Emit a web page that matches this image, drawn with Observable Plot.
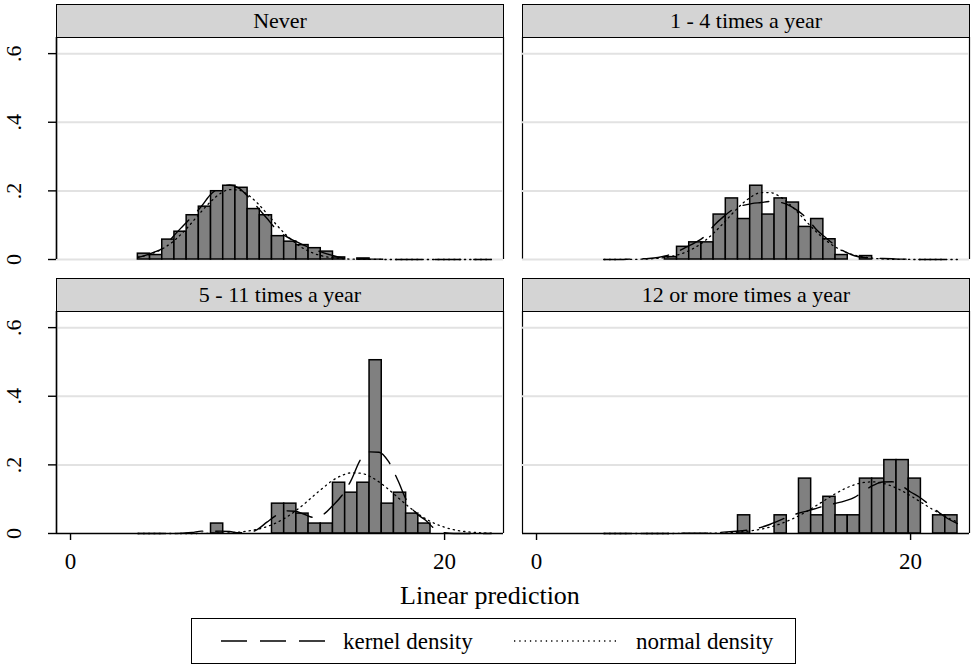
<!DOCTYPE html>
<html>
<head>
<meta charset="utf-8">
<script src="https://cdn.jsdelivr.net/npm/d3@7"></script>
<script src="https://cdn.jsdelivr.net/npm/@observablehq/plot@0.6"></script>
<style>
  body { margin: 0; background: #fff; }
  #chart { position: relative; width: 971px; height: 667px; background: #fff;
           font-family: "Liberation Serif", "Times New Roman", serif; color: #000; overflow: hidden; }
  .strip { position: absolute; box-sizing: border-box; height: 34px; border: 1px solid #000;
           background: #d4d4d4; font-size: 22px; text-align: center; line-height: 32px;
           font-family: "Liberation Serif", serif; }
  .panel { position: absolute; }
  .xtitle { position: absolute; left: 190px; width: 600px; text-align: center; font-size: 26px;
            line-height: 26px; font-family: "Liberation Serif", serif; }
  .legend { position: absolute; }
  .legend svg { display: block; }
</style>
</head>
<body>
<div id="chart"></div>
<script>
// ---------------- data ----------------
const panelTitles = ["Never", "1 - 4 times a year", "5 - 11 times a year", "12 or more times a year"];

// histogram bins (common to all panels)
const binStart = 3.6;
const binWidth = 0.652;

// density per bin (29 bins)
const densNever = [0.017, 0.013, 0.058, 0.081, 0.129, 0.154, 0.199, 0.215, 0.209, 0.147,
                   0.129, 0.068, 0.052, 0.042, 0.033, 0.023, 0.006, 0, 0.003, 0,
                   0, 0, 0, 0, 0, 0, 0, 0, 0];
const dens1to4 = [0, 0, 0, 0, 0, 0.007, 0.037, 0.050, 0.050, 0.131,
                  0.178, 0.118, 0.215, 0.131, 0.178, 0.166, 0.095, 0.118, 0.059, 0.013,
                  0, 0.010, 0, 0, 0, 0, 0, 0, 0];
const dens5to11 = [0, 0, 0, 0, 0, 0, 0.029, 0, 0, 0,
                   0, 0.087, 0.087, 0.058, 0.029, 0.029, 0.148, 0.119, 0.148, 0.505,
                   0.087, 0.119, 0.058, 0.029, 0, 0, 0, 0, 0];
const dens12plus = [0, 0, 0, 0, 0, 0, 0, 0, 0, 0,
                    0, 0.053, 0, 0, 0.053, 0, 0.160, 0.053, 0.107, 0.053,
                    0.053, 0.160, 0.160, 0.214, 0.214, 0.160, 0, 0.053, 0.053];

// density curves at these x positions
const curveX = [3.6, 4, 4.5, 5, 5.5, 6, 6.5, 7, 7.5, 8, 8.5, 9, 9.5, 10, 10.5, 11, 11.5, 12, 12.5, 13,
                13.5, 14, 14.5, 15, 15.5, 16, 16.5, 17, 17.5, 18, 18.5, 19, 19.5, 20, 20.5, 21, 21.5, 22, 22.5];

const kernelNever = [0.006, 0.012, 0.022, 0.036, 0.068, 0.097, 0.125, 0.155, 0.19, 0.21,
                     0.217, 0.208, 0.183, 0.152, 0.12, 0.088, 0.068, 0.054, 0.041, 0.03,
                     0.02, 0.012, 0.005, 0.002, 0.001, 0.001, 0.001, 0, 0, 0,
                     0, 0, 0, 0, 0, 0, 0, 0, 0];
const normalNever = [0.0067, 0.0112, 0.0201, 0.0338, 0.0532, 0.0784, 0.1083, 0.140, 0.169, 0.192,
                     0.2035, 0.202, 0.188, 0.164, 0.134, 0.102, 0.073, 0.049, 0.0306, 0.018,
                     0.0099, 0.0051, 0.0025, 0.0011, 0.0005, 0.0002, 0.0001, 0, 0, 0,
                     0, 0, 0, 0, 0, 0, 0, 0, 0];

const kernel1to4 = [0, 0, 0, 0.001, 0.002, 0.003, 0.006, 0.012, 0.022, 0.036,
                    0.05, 0.068, 0.1, 0.125, 0.146, 0.157, 0.163, 0.166, 0.169, 0.167,
                    0.158, 0.141, 0.117, 0.085, 0.062, 0.04, 0.022, 0.011, 0.006, 0.004,
                    0.003, 0.002, 0.001, 0.001, 0, 0, 0, 0, 0];
const normal1to4 = [0, 0, 0.0001, 0.0003, 0.0008, 0.0017, 0.0036, 0.0069, 0.0127, 0.022,
                    0.0356, 0.0546, 0.0785, 0.1063, 0.1355, 0.1625, 0.1835, 0.195, 0.195, 0.1835,
                    0.1625, 0.1355, 0.1063, 0.0785, 0.0546, 0.0356, 0.022, 0.0127, 0.0069, 0.0036,
                    0.0017, 0.0008, 0.0003, 0.0001, 0, 0, 0, 0, 0];

const kernel5to11 = [0, 0, 0, 0, 0, 0.001, 0.003, 0.007, 0.006, 0.007,
                     0.006, 0.002, 0.002, 0.012, 0.033, 0.053, 0.066, 0.065, 0.056, 0.047,
                     0.055, 0.08, 0.11, 0.155, 0.215, 0.238, 0.237, 0.21, 0.155, 0.093,
                     0.058, 0.038, 0.012, 0.002, 0, 0, 0, 0, 0];
const normal5to11 = [0, 0, 0, 0, 0, 0, 0, 0.0002, 0.0005, 0.001,
                     0.0021, 0.004, 0.0072, 0.0123, 0.020, 0.031, 0.046, 0.0645, 0.0863, 0.110,
                     0.133, 0.154, 0.169, 0.1766, 0.1757, 0.1665, 0.150, 0.1287, 0.105, 0.0818,
                     0.0604, 0.0426, 0.0285, 0.0182, 0.011, 0.0064, 0.0035, 0.0018, 0.0009];

const kernel12plus = [0, 0, 0, 0, 0, 0, 0, 0, 0, 0.001,
                      0.001, 0.001, 0.002, 0.004, 0.006, 0.008, 0.012, 0.018, 0.027, 0.038,
                      0.05, 0.059, 0.066, 0.074, 0.082, 0.088, 0.095, 0.105, 0.124, 0.14,
                      0.15, 0.151, 0.14, 0.121, 0.105, 0.084, 0.062, 0.043, 0.029];
const normal12plus = [0, 0, 0, 0, 0, 0, 0, 0, 0.0001, 0.0001,
                      0.0002, 0.0005, 0.001, 0.0018, 0.003, 0.0051, 0.0082, 0.0126, 0.0189, 0.0273,
                      0.038, 0.051, 0.066, 0.0827, 0.0999, 0.1164, 0.131, 0.142, 0.1488, 0.1504,
                      0.1467, 0.138, 0.1254, 0.110, 0.093, 0.076, 0.0598, 0.0455, 0.0334];

const yTicks = [0, 0.2, 0.4, 0.6];
const yTickLabels = ["0", ".2", ".4", ".6"];
const xTicks = [0, 20];
const xTitle = "Linear prediction";
const legendLabels = ["kernel density", "normal density"];

// ---------------- layout ----------------
const densities = [densNever, dens1to4, dens5to11, dens12plus];
const kernels = [kernelNever, kernel1to4, kernel5to11, kernel12plus];
const normals = [normalNever, normal1to4, normal5to11, normal12plus];

const xDomain = [-0.75, 23.15];
const yDomain = [0, 0.647];
const plotW = 447, plotH = 222;
const colLeft = [56, 522];
const rowTop = [37, 311];
const stripH = 34;
const pad = 2;
const FONT = "Liberation Serif, Times New Roman, serif";
const kernelDash = "26,13";
const normalDash = "1.3,4";

const chart = document.getElementById("chart");

function makePanel(i) {
  const col = i % 2, row = Math.floor(i / 2);
  const isLeft = col === 0, isBottom = row === 1;
  const bars = densities[i]
    .map((d, k) => ({x1: binStart + k * binWidth, x2: binStart + (k + 1) * binWidth, dens: d}))
    .filter(d => d.dens > 0);
  const kern = curveX.map((x, j) => ({cx: x, cy: kernels[i][j]}));
  const norm = curveX.map((x, j) => ({cx: x, cy: normals[i][j]}));

  const marginLeft = isLeft ? 56 : pad;
  const marginBottom = isBottom ? 50 : pad;
  const marks = [
    // panel side edges
    Plot.ruleX(xDomain, {stroke: "#000", strokeWidth: 1.2}),
    Plot.ruleY(isBottom ? yTicks.slice(1) : yTicks, {stroke: "#e2e2e2", strokeWidth: 2}),
    Plot.rectY(bars, {x1: "x1", x2: "x2", y: "dens", fill: "#808080", stroke: "#000", strokeWidth: 1.5}),
    Plot.line(kern, {x: "cx", y: "cy", stroke: "#000", strokeWidth: 1.4, strokeDasharray: kernelDash, curve: "monotone-x"}),
    Plot.line(norm, {x: "cx", y: "cy", stroke: "#000", strokeWidth: 1.3, strokeDasharray: normalDash, curve: "monotone-x"})
  ];
  if (isLeft) {
    marks.push(
      Plot.ruleX([xDomain[0]], {stroke: "#000", strokeWidth: 1.5}),
      Plot.axisY({ticks: yTicks, tickSize: 8, tickRotate: -90, tickPadding: 28,
                  tickFormat: d => yTickLabels[yTicks.indexOf(d)], fontSize: 22, fontFamily: FONT,
                  stroke: "#000", strokeWidth: 1.4, label: null})
    );
  }
  if (isBottom) {
    marks.push(
      Plot.ruleY([0], {stroke: "#000", strokeWidth: 1.5}),
      Plot.axisX({ticks: xTicks, tickSize: 7, tickPadding: 12, fontSize: 23, fontFamily: FONT,
                  tickFormat: d => String(d), stroke: "#000", strokeWidth: 1.4, label: null})
    );
  }
  const svg = Plot.plot({
    width: marginLeft + plotW + pad,
    height: pad + plotH + marginBottom,
    marginLeft, marginRight: pad, marginTop: pad, marginBottom,
    x: {domain: xDomain, label: null, ...(isBottom ? {} : {axis: null})},
    y: {domain: yDomain, label: null, ...(isLeft ? {} : {axis: null})},
    style: {background: "transparent", fontFamily: FONT, color: "#000", overflow: "visible"},
    marks
  });
  const wrap = document.createElement("div");
  wrap.className = "panel";
  wrap.style.left = (colLeft[col] - marginLeft) + "px";
  wrap.style.top = (rowTop[row] - pad) + "px";
  wrap.appendChild(svg);
  chart.appendChild(wrap);

  const strip = document.createElement("div");
  strip.className = "strip";
  strip.style.left = colLeft[col] + "px";
  strip.style.width = (plotW + 1) + "px";
  strip.style.top = (rowTop[row] - stripH + 1) + "px";
  strip.textContent = panelTitles[i];
  chart.appendChild(strip);
}

for (let i = 0; i < 4; i++) makePanel(i);

// axis title
const t = document.createElement("div");
t.className = "xtitle";
t.style.top = "583px";
t.textContent = xTitle;
chart.appendChild(t);

// legend (box with two line-style keys)
const legW = 605, legH = 46;
const legendDiv = document.createElement("div");
legendDiv.className = "legend";
legendDiv.style.left = "191px";
legendDiv.style.top = "618px";
const ls = d3.create("svg").attr("width", legW).attr("height", legH);
ls.append("rect").attr("x", 0.5).attr("y", 0.5).attr("width", legW - 1).attr("height", legH - 1)
  .attr("fill", "#fff").attr("stroke", "#000").attr("stroke-width", 1);
const keyX = [30, 323];
const dashes = [kernelDash, normalDash];
legendLabels.forEach((lab, k) => {
  ls.append("line").attr("x1", keyX[k]).attr("x2", keyX[k] + 104).attr("y1", legH / 2).attr("y2", legH / 2)
    .attr("stroke", "#000").attr("stroke-width", 1.4).attr("stroke-dasharray", dashes[k]);
  ls.append("text").attr("x", keyX[k] + 122).attr("y", legH / 2).attr("dy", "0.33em")
    .attr("font-family", FONT).attr("font-size", 23).attr("fill", "#000").text(lab);
});
legendDiv.appendChild(ls.node());
chart.appendChild(legendDiv);
</script>
</body>
</html>
